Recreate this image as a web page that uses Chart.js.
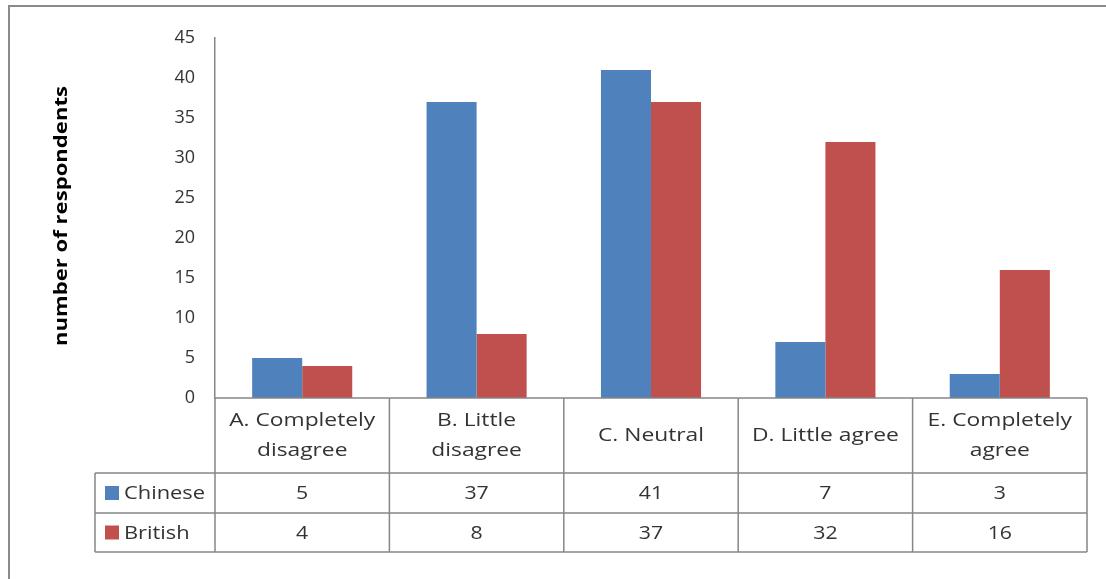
<!DOCTYPE html>
<html>
<head>
<meta charset="utf-8">
<script src="https://cdn.jsdelivr.net/npm/chart.js@4.4.0/dist/chart.umd.min.js"></script>
<style>
  html, body { margin: 0; padding: 0; background: #fff; overflow: hidden; }
  #wrap { position: relative; width: 1106px; height: 579px; }
  #frame { position: absolute; left: 8px; top: 5px; width: 1120px; height: 600px;
           border-left: 2px solid #8a8a8a; border-top: 2px solid #8a8a8a; }
  canvas { position: absolute; left: 0; top: 0; }
</style>
</head>
<body>
<div id="wrap">
  <div id="frame"></div>
  <canvas id="chart" width="1106" height="579"></canvas>
</div>
<script>
// ── data ──
const categories = [
  ['A. Completely', 'disagree'],
  ['B. Little', 'disagree'],
  ['C. Neutral'],
  ['D. Little agree'],
  ['E. Completely', 'agree']
];
const seriesNames = ['Chinese', 'British'];
const chineseValues = [5, 37, 41, 7, 3];
const britishValues = [4, 8, 37, 32, 16];
const yMin = 0;
const yMax = 45;
const yStep = 5;
const yTitle = 'number of respondents';

const seriesColors = ['#4F81BD', '#C0504D'];
const seriesValues = [chineseValues, britishValues];
const textColor = '#333333';
const lineColor = '#878787';
const FONT = '"Open Sans", sans-serif';

// excel's text looks a bit wider than ours, stretch it horizontally
function wideText(ctx, text, x, y, align, sx) {
  ctx.save();
  ctx.translate(x, y);
  ctx.scale(sx, 1);
  ctx.textAlign = align;
  ctx.fillText(text, 0, 0);
  ctx.restore();
}

// data table under the plot + rotated y title
const dataTable = {
  id: 'dataTable',
  afterDraw(chart) {
    const { ctx, chartArea: ca, scales: { x } } = chart;
    const n = categories.length;
    const colW = (ca.right - ca.left) / n;
    const edges = [];
    for (let i = 0; i < n; i++) edges.push(x.getPixelForValue(i) - colW / 2);
    edges.push(x.getPixelForValue(n - 1) + colW / 2);

    const headTop = ca.bottom;
    const headBottom = headTop + 75;
    const rowH = [40, 39];
    const rowTops = [headBottom, headBottom + rowH[0]];
    const tableBottom = rowTops[1] + rowH[1];
    const legendLeft = ca.left - 120;

    ctx.save();
    ctx.strokeStyle = lineColor;
    ctx.lineWidth = 1.5;
    ctx.beginPath();
    // horizontal lines
    ctx.moveTo(ca.left, headTop); ctx.lineTo(edges[n], headTop);
    [rowTops[0], rowTops[1], tableBottom].forEach(yy => {
      ctx.moveTo(legendLeft, yy); ctx.lineTo(edges[n], yy);
    });
    // vertical lines
    edges.forEach(ex => { ctx.moveTo(ex, headTop); ctx.lineTo(ex, tableBottom); });
    ctx.moveTo(legendLeft, rowTops[0]); ctx.lineTo(legendLeft, tableBottom);
    ctx.stroke();

    ctx.fillStyle = textColor;
    ctx.font = '19px ' + FONT;
    ctx.textBaseline = 'middle';
    const headMid = (headTop + headBottom) / 2;
    categories.forEach((lines, i) => {
      const cx = x.getPixelForValue(i);
      const lh = 30;
      const start = headMid - (lines.length - 1) * lh / 2;
      lines.forEach((t, k) => wideText(ctx, t, cx, start + k * lh, 'center', 1.2));
    });

    seriesNames.forEach((name, s) => {
      const mid = rowTops[s] + rowH[s] / 2;
      ctx.fillStyle = seriesColors[s];
      ctx.fillRect(legendLeft + 10, mid - 7, 14, 14);
      ctx.fillStyle = textColor;
      wideText(ctx, name, legendLeft + 29, mid + 1, 'left', 1.15);
      seriesValues[s].forEach((v, i) => {
        wideText(ctx, String(v), x.getPixelForValue(i), mid + 1, 'center', 1.12);
      });
    });

    // y axis title
    ctx.translate(62, (ca.top + ca.bottom) / 2 - 2);
    ctx.rotate(-Math.PI / 2);
    ctx.font = 'bold 17px ' + FONT;
    ctx.fillStyle = '#000';
    wideText(ctx, yTitle, 0, 0, 'center', 1.3);
    ctx.restore();
  }
};

new Chart(document.getElementById('chart'), {
  type: 'bar',
  data: {
    labels: categories,
    datasets: seriesNames.map((name, s) => ({
      label: name,
      data: seriesValues[s],
      backgroundColor: seriesColors[s],
      borderWidth: 0,
      categoryPercentage: 0.574,
      barPercentage: 1.0
    }))
  },
  options: {
    responsive: false,
    animation: false,
    devicePixelRatio: 1,
    layout: { padding: { top: 38, right: 19, bottom: 181, left: 0 } },
    plugins: { legend: { display: false }, tooltip: { enabled: false } },
    scales: {
      x: { display: false },
      y: {
        min: yMin,
        max: yMax,
        afterFit: (scale) => { scale.width = 215; },
        grid: { display: false, drawTicks: false },
        border: { display: true, color: lineColor, width: 1.5 },
        ticks: {
          stepSize: yStep,
          padding: 20,
          color: textColor,
          font: { family: FONT, size: 18 }
        }
      }
    }
  },
  plugins: [dataTable]
});
</script>
</body>
</html>
